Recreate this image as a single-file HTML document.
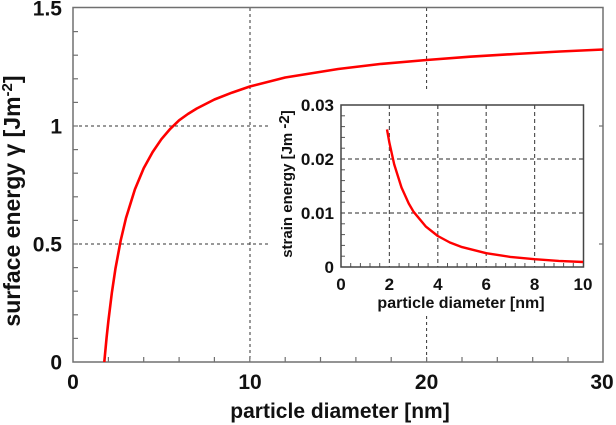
<!DOCTYPE html>
<html><head><meta charset="utf-8"><style>
html,body{margin:0;padding:0;background:#fff;}
svg{display:block;}
text{font-family:"Liberation Sans",Arial,sans-serif;fill:#111;}
</style></head><body>
<svg width="616" height="425" viewBox="0 0 616 425" xmlns="http://www.w3.org/2000/svg">
<!-- main grid -->
<g stroke="#333" stroke-width="1" stroke-dasharray="3,3" fill="none">
<line x1="250" y1="8" x2="250" y2="362"/>
<line x1="426.6" y1="8" x2="426.6" y2="92"/>
<line x1="426.6" y1="316" x2="426.6" y2="362"/>
<line x1="73" y1="126" x2="270" y2="126"/>
<line x1="73" y1="244" x2="270" y2="244"/>
</g>
<!-- main frame -->
<g stroke="#707070" stroke-width="1.5" fill="none">
<rect x="73" y="7.5" width="530" height="354.5"/>
</g>
<!-- main ticks -->
<g stroke="#707070" stroke-width="1.2">
<line x1="73" y1="338.4" x2="78" y2="338.4"/><line x1="73" y1="314.8" x2="78" y2="314.8"/>
<line x1="73" y1="291.2" x2="78" y2="291.2"/><line x1="73" y1="267.6" x2="78" y2="267.6"/>
<line x1="73" y1="244" x2="78" y2="244"/><line x1="73" y1="220.4" x2="78" y2="220.4"/>
<line x1="73" y1="196.8" x2="78" y2="196.8"/><line x1="73" y1="173.2" x2="78" y2="173.2"/>
<line x1="73" y1="149.6" x2="78" y2="149.6"/><line x1="73" y1="126" x2="78" y2="126"/>
<line x1="73" y1="102.4" x2="78" y2="102.4"/><line x1="73" y1="78.8" x2="78" y2="78.8"/>
<line x1="73" y1="55.2" x2="78" y2="55.2"/><line x1="73" y1="31.6" x2="78" y2="31.6"/>
<line x1="108.4" y1="362" x2="108.4" y2="357"/><line x1="143.7" y1="362" x2="143.7" y2="357"/>
<line x1="179.1" y1="362" x2="179.1" y2="357"/><line x1="214.4" y1="362" x2="214.4" y2="357"/>
<line x1="249.8" y1="362" x2="249.8" y2="357"/><line x1="285.2" y1="362" x2="285.2" y2="357"/>
<line x1="320.5" y1="362" x2="320.5" y2="357"/><line x1="355.9" y1="362" x2="355.9" y2="357"/>
<line x1="391.2" y1="362" x2="391.2" y2="357"/><line x1="426.6" y1="362" x2="426.6" y2="357"/>
<line x1="462" y1="362" x2="462" y2="357"/><line x1="497.3" y1="362" x2="497.3" y2="357"/>
<line x1="532.7" y1="362" x2="532.7" y2="357"/><line x1="568" y1="362" x2="568" y2="357"/>
</g>
<!-- main curve -->
<polyline fill="none" stroke="#ff0000" stroke-width="2.6" stroke-linejoin="round"
points="104.3,362 106.6,337.5 108.4,320.8 111.9,292.4 115.4,268.9 120.7,240.5 126,218 134.9,189.4 143.7,168.3 152.6,152.1 161.4,139.2 170.2,128.9 179.1,120.3 187.9,114 196.8,108.5 214.4,99.5 232.1,92.6 249.8,86.5 285.2,77.5 338.2,69 380,64 426.6,60 470,56.7 515,54 560,51.5 603.4,49.5"/>
<!-- inset background -->
<rect x="272" y="93" width="325" height="223" fill="#fff"/>
<!-- right axis ticks -->
<g stroke="#707070" stroke-width="1.2">
<line x1="599" y1="126" x2="603" y2="126"/><line x1="599" y1="244" x2="603" y2="244"/>
</g>
<!-- main labels -->
<g font-size="21" font-weight="bold" text-anchor="end">
<text x="62" y="15.5">1.5</text>
<text x="62" y="133.5">1</text>
<text x="62" y="251.5">0.5</text>
<text x="62" y="369.5">0</text>
</g>
<g font-size="21" font-weight="bold" text-anchor="middle">
<text x="73" y="389">0</text>
<text x="250" y="389">10</text>
<text x="426.6" y="389">20</text>
<text x="602" y="389">30</text>
<text x="340" y="418">particle diameter [nm]</text>
</g>
<text transform="translate(20,201) rotate(-90)" font-size="23" font-weight="bold" text-anchor="middle">surface energy γ [Jm<tspan font-size="15" dy="-8">-2</tspan><tspan dy="8">]</tspan></text>

<!-- inset grid -->
<g stroke="#555" stroke-width="1.2" stroke-dasharray="4,3" fill="none">
<line x1="389.4" y1="105" x2="389.4" y2="267"/>
<line x1="437.8" y1="105" x2="437.8" y2="267"/>
<line x1="486.2" y1="105" x2="486.2" y2="267"/>
<line x1="534.6" y1="105" x2="534.6" y2="267"/>
<line x1="341" y1="213" x2="583" y2="213"/>
<line x1="341" y1="159" x2="583" y2="159"/>
</g>
<!-- inset ticks -->
<g stroke="#555" stroke-width="1">
<line x1="341" y1="256.2" x2="345" y2="256.2"/><line x1="341" y1="245.4" x2="345" y2="245.4"/>
<line x1="341" y1="234.6" x2="345" y2="234.6"/><line x1="341" y1="223.8" x2="345" y2="223.8"/>
<line x1="341" y1="202.2" x2="345" y2="202.2"/><line x1="341" y1="191.4" x2="345" y2="191.4"/>
<line x1="341" y1="180.6" x2="345" y2="180.6"/><line x1="341" y1="169.8" x2="345" y2="169.8"/>
<line x1="341" y1="148.2" x2="345" y2="148.2"/><line x1="341" y1="137.4" x2="345" y2="137.4"/>
<line x1="341" y1="126.6" x2="345" y2="126.6"/><line x1="341" y1="115.8" x2="345" y2="115.8"/>
<line x1="350.7" y1="267" x2="350.7" y2="263"/><line x1="360.4" y1="267" x2="360.4" y2="263"/>
<line x1="370" y1="267" x2="370" y2="263"/><line x1="379.7" y1="267" x2="379.7" y2="263"/>
<line x1="399.1" y1="267" x2="399.1" y2="263"/><line x1="408.8" y1="267" x2="408.8" y2="263"/>
<line x1="418.4" y1="267" x2="418.4" y2="263"/><line x1="428.1" y1="267" x2="428.1" y2="263"/>
<line x1="447.5" y1="267" x2="447.5" y2="263"/><line x1="457.2" y1="267" x2="457.2" y2="263"/>
<line x1="466.8" y1="267" x2="466.8" y2="263"/><line x1="476.5" y1="267" x2="476.5" y2="263"/>
<line x1="495.9" y1="267" x2="495.9" y2="263"/><line x1="505.6" y1="267" x2="505.6" y2="263"/>
<line x1="515.2" y1="267" x2="515.2" y2="263"/><line x1="524.9" y1="267" x2="524.9" y2="263"/>
<line x1="544.3" y1="267" x2="544.3" y2="263"/><line x1="554" y1="267" x2="554" y2="263"/>
<line x1="563.6" y1="267" x2="563.6" y2="263"/><line x1="573.3" y1="267" x2="573.3" y2="263"/>
<line x1="389.4" y1="105" x2="389.4" y2="109"/><line x1="437.8" y1="105" x2="437.8" y2="109"/>
<line x1="486.2" y1="105" x2="486.2" y2="109"/><line x1="534.6" y1="105" x2="534.6" y2="109"/>
</g>
<!-- inset frame -->
<rect x="341" y="105" width="242.5" height="162" fill="none" stroke="#444" stroke-width="1.5"/>
<!-- inset curve -->
<polyline fill="none" stroke="#ff0000" stroke-width="2.4" stroke-linejoin="round"
points="387,129.4 389.4,142.8 394.2,164.4 401.5,187.5 408.8,203.6 413.6,211.8 425.7,226.4 437.8,236 449.9,242.5 462,247.1 486.2,253.2 510.4,256.9 534.6,259.2 558.8,260.9 583,262"/>
<!-- inset labels -->
<g font-size="17" font-weight="bold" text-anchor="end">
<text x="334" y="111">0.03</text>
<text x="334" y="165">0.02</text>
<text x="334" y="219">0.01</text>
<text x="334" y="273">0</text>
</g>
<g font-size="17" font-weight="bold" text-anchor="middle">
<text x="341" y="290">0</text>
<text x="389.4" y="290">2</text>
<text x="437.8" y="290">4</text>
<text x="486.2" y="290">6</text>
<text x="534.6" y="290">8</text>
<text x="583" y="290">10</text>
</g>
<text x="461" y="308" font-size="16" font-weight="bold" text-anchor="middle">particle diameter [nm]</text>
<text transform="translate(292,184) rotate(-90)" font-size="15" font-weight="bold" text-anchor="middle">strain energy [Jm <tspan dy="-3">-2</tspan><tspan dy="3">]</tspan></text>
</svg>
</body></html>
